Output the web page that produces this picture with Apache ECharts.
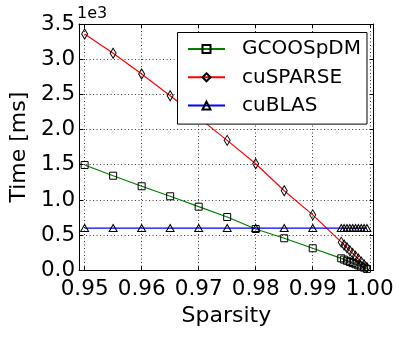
<!DOCTYPE html>
<html>
<head>
<meta charset="utf-8">
<script src="https://cdn.jsdelivr.net/npm/echarts@6/dist/echarts.min.js"></script>
<style>
  html, body { margin: 0; padding: 0; background: #fff; }
  #main { width: 399px; height: 339px; }
</style>
</head>
<body>
<div id="main"></div>
<script>
// sparsity values on x, times in ms on y
const sparsity = [0.95, 0.955, 0.96, 0.965, 0.97, 0.975, 0.98, 0.985, 0.99,
  0.995, 0.9955, 0.996, 0.9965, 0.997, 0.9975, 0.998, 0.9985, 0.999, 0.9995];
const gcooTime = [1496, 1344, 1194, 1052, 904, 757, 587, 455, 313,
  170, 152, 135, 118, 102, 86, 70, 54, 38, 20];
const cusparseTime = [3358, 3084, 2790, 2480, 2170, 1846, 1514, 1130, 788,
  400, 360, 320, 280, 240, 200, 160, 120, 80, 40];
const cublasTime = [600, 600, 600, 600, 600, 600, 600, 600, 600,
  600, 600, 600, 600, 600, 600, 600, 600, 600, 600];
const xTicks = [0.95, 0.96, 0.97, 0.98, 0.99, 1.00];
const seriesNames = ['GCOOSpDM', 'cuSPARSE', 'cuBLAS'];

const font = 'DejaVu Sans';
const chart = echarts.init(document.getElementById('main'), null, { renderer: 'canvas' });

function pairs(ys) {
  return sparsity.map(function (x, i) { return [x, ys[i]]; });
}

function makeSeries(name, ys, color, symbol, size) {
  return {
    name: name,
    type: 'line',
    data: pairs(ys),
    symbol: symbol,
    symbolSize: size,
    showAllSymbol: true,
    lineStyle: { color: color, width: 1.2 },
    itemStyle: { color: 'rgba(0,0,0,0)', borderColor: '#000', borderWidth: 1 },
    emphasis: { disabled: true },
    animation: false
  };
}

const gridLine = { show: true, lineStyle: { color: '#000', width: 0.8, type: [1, 2.5] } };

let option = {
  backgroundColor: '#fff',
  animation: false,
  grid: { left: 75.7, right: 25.3, top: 24, bottom: 68.7 },
  graphic: [{
    type: 'text', left: 77, top: 6,
    style: { text: '1e3', font: '16px "DejaVu Sans"', fill: '#000' }
  }],
  legend: {
    orient: 'vertical',
    left: 177.5,
    top: 32.5,
    padding: [6.5, 6, 8.5, 9.5],
    itemGap: 8.3,
    itemWidth: 37,
    itemHeight: 10,
    backgroundColor: '#fff',
    borderColor: '#000',
    borderWidth: 1,
    borderRadius: 0,
    z: 10,
    data: seriesNames,
    textStyle: { fontFamily: font, fontSize: 20, color: '#000', padding: [0, 0, 0, 12] }
  },
  xAxis: [{
    type: 'value',
    min: 0.94903,
    max: 1.00069,
    name: 'Sparsity',
    nameLocation: 'middle',
    nameGap: 30,
    nameTextStyle: { fontFamily: font, fontSize: 22, color: '#000' },
    axisLine: { show: true, onZero: false, lineStyle: { color: '#000', width: 1 } },
    axisTick: { show: true, inside: true, length: 4, customValues: xTicks, lineStyle: { color: '#000' } },
    axisLabel: {
      customValues: xTicks, margin: 8,
      fontFamily: font, fontSize: 21.5, color: '#000',
      formatter: function (v) { return v.toFixed(2); }
    },
    splitLine: gridLine
  }, {
    type: 'value',
    position: 'top',
    min: 0.94903,
    max: 1.00069,
    axisLine: { show: true, onZero: false, lineStyle: { color: '#000', width: 1 } },
    axisTick: { show: true, inside: true, length: 4, customValues: xTicks, lineStyle: { color: '#000' } },
    axisLabel: { show: false },
    splitLine: { show: false }
  }],
  yAxis: [{
    type: 'value',
    min: 0,
    max: 3500,
    interval: 500,
    name: 'Time [ms]',
    nameLocation: 'middle',
    nameGap: 48,
    nameTextStyle: { fontFamily: font, fontSize: 22, color: '#000' },
    axisLine: { show: true, onZero: false, lineStyle: { color: '#000', width: 1 } },
    axisTick: { show: true, inside: true, length: 4, lineStyle: { color: '#000' } },
    axisLabel: {
      margin: 4, fontFamily: font, fontSize: 21.5, color: '#000',
      formatter: function (v) { return (v / 1000).toFixed(1); }
    },
    splitLine: gridLine
  }, {
    type: 'value',
    position: 'right',
    min: 0,
    max: 3500,
    interval: 500,
    axisLine: { show: true, onZero: false, lineStyle: { color: '#000', width: 1 } },
    axisTick: { show: true, inside: true, length: 4, lineStyle: { color: '#000' } },
    axisLabel: { show: false },
    splitLine: { show: false }
  }],
  series: [
    makeSeries(seriesNames[0], gcooTime, '#008000', 'rect', [7, 7]),
    makeSeries(seriesNames[1], cusparseTime, '#ff0000', 'diamond', [6, 10]),
    makeSeries(seriesNames[2], cublasTime, '#0000ff', 'triangle', [8, 7])
  ]
};

chart.setOption(option);
</script>
</body>
</html>
